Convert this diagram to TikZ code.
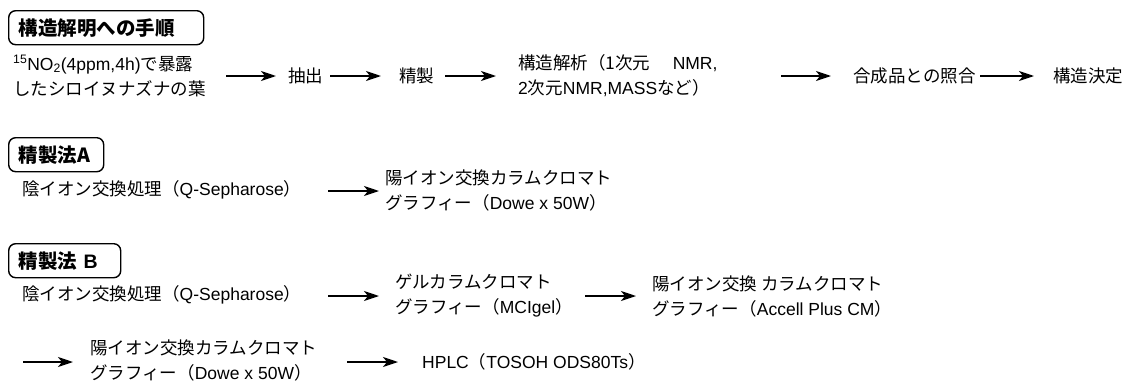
\documentclass[tikz,border=0pt]{standalone}
\usepackage{fontspec}
\setmainfont{Liberation Sans}
\newfontfamily\jp{Noto Sans CJK JP}
\usetikzlibrary{arrows.meta}
\begin{document}
\begin{tikzpicture}[x=1pt,y=-1pt,
  txt/.style={anchor=west,inner sep=0pt,align=left,font=\fontsize{17.5}{25}\selectfont},
  titlebox/.style={draw,rounded corners=7pt,line width=1.4pt,anchor=north west,
    align=left,inner xsep=10pt,inner ysep=0pt,minimum height=34pt,font=\bfseries\fontsize{19.5}{22}\selectfont},
  arr/.style={-{Stealth[length=15pt,width=10pt,inset=4pt]},line width=1.8pt}]
\useasboundingbox (0,0) rectangle (1132,383);
% ---- row 1
\node[titlebox,text width=175pt] (t1) at (8,10) {\jp 構造解明への手順};
\node[txt] (s1) at (13,76) {\textsuperscript{15}NO\textsubscript{2}(4ppm,4h){\jp で暴露}\\{\jp したシロイヌナズナの葉}};
\node[txt] (s2) at (288,76) {\jp 抽出};
\node[txt] (s3) at (399,76) {\jp 精製};
\node[txt] (s4) at (518,76) {{\jp 構造解析（1次元　} NMR,\\2{\jp 次元}NMR,MASS{\jp など）}};
\node[txt] (s5) at (853,76) {\jp 合成品との照合};
\node[txt] (s6) at (1053,76) {\jp 構造決定};
\coordinate (a1s) at (226,76); \coordinate (a1e) at (276,76);
\coordinate (a2s) at (330,76); \coordinate (a2e) at (381,76);
\coordinate (a3s) at (445,76); \coordinate (a3e) at (496,76);
\coordinate (a4s) at (781,76); \coordinate (a4e) at (831,76);
\coordinate (a5s) at (980,76); \coordinate (a5e) at (1034,76);
\draw[arr] (a1s) -- (a1e);
\draw[arr] (a2s) -- (a2e);
\draw[arr] (a3s) -- (a3e);
\draw[arr] (a4s) -- (a4e);
\draw[arr] (a5s) -- (a5e);
% ---- method A
\node[titlebox,text width=75pt] (tA) at (8,137) {\jp 精製法A};
\node[txt] (A1) at (22,190) {{\jp 陰イオン交換処理（}Q-Sepharose{\jp ）}};
\node[txt] (A2) at (385,190) {{\jp 陽イオン交換カラムクロマト}\\{\jp グラフィー（}Dowe x 50W{\jp ）}};
\coordinate (aAs) at (328,191); \coordinate (aAe) at (379,191);
\draw[arr] (aAs) -- (aAe);
% ---- method B
\node[titlebox,text width=92pt] (tB) at (8,243) {{\jp 精製法} B};
\node[txt] (B1) at (22,295) {{\jp 陰イオン交換処理（}Q-Sepharose{\jp ）}};
\node[txt] (B2) at (395,296) {{\jp ゲルカラムクロマト}\\{\jp グラフィー（}MCIgel{\jp ）}};
\node[txt] (B3) at (652,296) {{\jp 陽イオン交換 カラムクロマト}\\{\jp グラフィー（}Accell Plus CM{\jp ）}};
\node[txt] (B4) at (90,360) {{\jp 陽イオン交換カラムクロマト}\\{\jp グラフィー（}Dowe x 50W{\jp ）}};
\node[txt] (B5) at (422,362) {HPLC{\jp （}TOSOH ODS80Ts{\jp ）}};
\coordinate (bAs) at (328,296); \coordinate (bAe) at (379,296);
\coordinate (bBs) at (585,296); \coordinate (bBe) at (636,296);
\coordinate (bCs) at (23,362); \coordinate (bCe) at (73,362);
\coordinate (bDs) at (347,362); \coordinate (bDe) at (398,362);
\draw[arr] (bAs) -- (bAe);
\draw[arr] (bBs) -- (bBe);
\draw[arr] (bCs) -- (bCe);
\draw[arr] (bDs) -- (bDe);
\end{tikzpicture}
\end{document}
